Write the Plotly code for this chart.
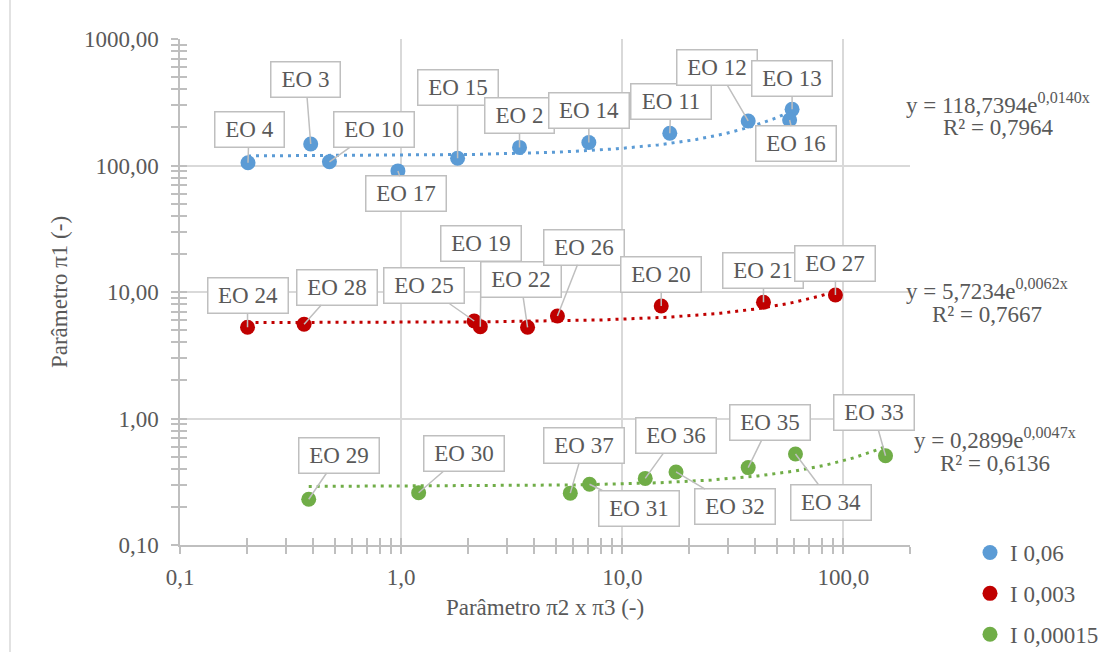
import numpy as np
import plotly.graph_objects as go

# ---- data -------------------------------------------------------------
series_names = ["I 0,06", "I 0,003", "I 0,00015"]
series_colors = ["#5b9bd5", "#c00000", "#70ad47"]

s1_labels = ["EO 4", "EO 3", "EO 10", "EO 17", "EO 15", "EO 2", "EO 14", "EO 11", "EO 12", "EO 13", "EO 16"]
s1_x = [0.203, 0.39, 0.474, 0.967, 1.80, 3.43, 7.06, 16.4, 37.1, 58.6, 57.1]
s1_y = [105, 148, 107, 90.6, 114, 139, 152, 180, 225, 278, 229]

s2_labels = ["EO 24", "EO 28", "EO 25", "EO 19", "EO 22", "EO 26", "EO 20", "EO 21", "EO 27"]
s2_x = [0.202, 0.364, 2.14, 2.28, 3.73, 5.09, 15.0, 43.5, 92.0]
s2_y = [5.26, 5.56, 5.9, 5.32, 5.26, 6.46, 7.74, 8.3, 9.46]

s3_labels = ["EO 29", "EO 30", "EO 37", "EO 31", "EO 36", "EO 32", "EO 35", "EO 34", "EO 33"]
s3_x = [0.382, 1.20, 5.82, 7.11, 12.7, 17.5, 37.1, 60.7, 155]
s3_y = [0.23, 0.259, 0.257, 0.302, 0.336, 0.378, 0.409, 0.524, 0.508]

# exponential trendlines y = a * exp(b * x)
trend_a = [118.7394, 5.7234, 0.2899]
trend_b = [0.0140, 0.0062, 0.0047]
trend_r2 = [0.7964, 0.7667, 0.6136]

x_tickvals = [0.1, 1, 10, 100]
x_ticktext = ["0,1", "1,0", "10,0", "100,0"]
y_tickvals = [0.1, 1, 10, 100, 1000]
y_ticktext = ["0,10", "1,00", "10,00", "100,00", "1000,00"]

# ---- layout helpers -----------------------------------------------------
W, H = 1102, 652
L, R, T, B = 180, 910, 39, 545          # plot area in pixels
FONT = "Liberation Serif"
TXT = "#595959"
GRID = "#d9d9d9"
LINE = "#bfbfbf"


def px_to_paper(px, py):
    return (px - L) / (R - L), (B - py) / (B - T)


# callout box offsets (pixels, box centre relative to point)
callout = {
    "EO 4": (1, -33), "EO 3": (-5, -64), "EO 10": (45, -32), "EO 17": (8, 23),
    "EO 15": (0, -71), "EO 2": (0, -32), "EO 14": (0, -32), "EO 11": (1, -32),
    "EO 12": (-31, -53), "EO 13": (0, -31), "EO 16": (6, 24),
    "EO 24": (0, -32), "EO 28": (33, -37), "EO 25": (-50, -35), "EO 19": (1, -83),
    "EO 22": (-7, -48), "EO 26": (27, -69), "EO 20": (0, -32), "EO 21": (0, -32),
    "EO 27": (0, -32),
    "EO 29": (30, -44), "EO 30": (45, -39), "EO 37": (14, -48), "EO 31": (49, 24),
    "EO 36": (31, -43), "EO 32": (59, 35), "EO 35": (22, -45), "EO 34": (36, 48),
    "EO 33": (-12, -43),
}

# equation text anchor (pixels): centre of first line
eq_pos = [(998, 103), (987, 289), (995, 438)]

fig = go.Figure()

all_x = [s1_x, s2_x, s3_x]
all_y = [s1_y, s2_y, s3_y]
all_lab = [s1_labels, s2_labels, s3_labels]

# trendlines first so markers sit on top
for i in range(3):
    xs = np.geomspace(min(all_x[i]), max(all_x[i]), 200)
    ys = trend_a[i] * np.exp(trend_b[i] * xs)
    fig.add_trace(go.Scatter(
        x=xs, y=ys, mode="lines", showlegend=False, hoverinfo="skip",
        line=dict(color=series_colors[i], width=3, dash="3px,5px"),
    ))

for i in range(3):
    fig.add_trace(go.Scatter(
        x=all_x[i], y=all_y[i], mode="markers", name=series_names[i],
        legendgroup=series_names[i],
        marker=dict(color=series_colors[i], size=15, line=dict(width=0)),
        text=all_lab[i],
    ))

# empty trace carrying the overlay axes used for the inner tick marks
fig.add_trace(go.Scatter(x=[], y=[], xaxis="x2", yaxis="y2", showlegend=False, hoverinfo="skip"))

# data-point callouts
for i in range(3):
    for name, xv, yv in zip(all_lab[i], all_x[i], all_y[i]):
        dx, dy = callout[name]
        w = 68 if len(name) <= 4 else 79
        fig.add_annotation(
            x=np.log10(xv), y=np.log10(yv), xref="x", yref="y",
            text=name, showarrow=True, ax=dx, ay=dy,
            arrowhead=0, arrowwidth=1.5, arrowcolor=LINE, standoff=0,
            bordercolor=LINE, borderwidth=1.5, borderpad=0, bgcolor="white",
            width=w, height=34, align="center", valign="middle",
            font=dict(family=FONT, size=23, color=TXT),
        )

# trendline equations
for i in range(3):
    a_txt = f"{trend_a[i]:.4f}".replace(".", ",")
    b_txt = f"{trend_b[i]:.4f}".replace(".", ",")
    r_txt = f"{trend_r2[i]:.4f}".replace(".", ",")
    px, py = eq_pos[i]
    x1, y1 = px_to_paper(px, py)
    x2, y2 = px_to_paper(px, py + 25)
    fig.add_annotation(x=x1, y=y1, xref="paper", yref="paper", showarrow=False,
                       text=f"y = {a_txt}e<sup>{b_txt}x</sup>",
                       xanchor="center", yanchor="middle",
                       font=dict(family=FONT, size=23, color=TXT))
    fig.add_annotation(x=x2, y=y2, xref="paper", yref="paper", showarrow=False,
                       text=f"R² = {r_txt}",
                       xanchor="center", yanchor="middle",
                       font=dict(family=FONT, size=23, color=TXT))

# chart frame line on the left
bx0, _ = px_to_paper(10, 0)
_, by0 = px_to_paper(0, H)
_, by1 = px_to_paper(0, 0)
fig.add_shape(type="line", xref="paper", yref="paper", x0=bx0, x1=bx0, y0=by0, y1=by1,
              line=dict(color=GRID, width=1.5))

x_range = [-1, np.log10(200)]
y_range = [-1, 3]

axis_common = dict(type="log", showline=True, linecolor=LINE, linewidth=1.5,
                   ticks="outside", ticklen=7, tickcolor=LINE, tickwidth=1.5,
                   tickfont=dict(family=FONT, size=23, color=TXT),
                   gridcolor=GRID, gridwidth=1.5, zeroline=False)

lx, ly = px_to_paper(970, 531)

fig.update_layout(
    width=W, height=H, autosize=False,
    margin=dict(l=L, r=W - R, t=T, b=H - B, autoexpand=False),
    paper_bgcolor="white", plot_bgcolor="white",
    font=dict(family=FONT, size=23, color=TXT),
    xaxis=dict(**axis_common, range=x_range, tickvals=x_tickvals, ticktext=x_ticktext,
               ticklabelstandoff=4,
               minor=dict(ticks="outside", ticklen=7, tickcolor=LINE, tickwidth=1.5,
                          dtick="D1", showgrid=False),
               title=dict(text="Parâmetro π2 x π3 (-)", standoff=10,
                          font=dict(family=FONT, size=23, color=TXT))),
    yaxis=dict(**axis_common, range=y_range, tickvals=y_tickvals, ticktext=y_ticktext,
               ticklabelstandoff=8,
               minor=dict(ticks="outside", ticklen=7, tickcolor=LINE, tickwidth=1.5,
                          dtick="D1", showgrid=False),
               title=dict(text="Parâmetro π1 (-)", standoff=10,
                          font=dict(family=FONT, size=23, color=TXT))),
    xaxis2=dict(type="log", range=x_range, overlaying="x", anchor="y2", side="bottom",
                tickvals=x_tickvals, ticks="inside", ticklen=7, tickcolor=LINE, tickwidth=1.5,
                showticklabels=False, showgrid=False, showline=False, zeroline=False,
                minor=dict(ticks="inside", ticklen=7, tickcolor=LINE, tickwidth=1.5,
                           dtick="D1", showgrid=False)),
    yaxis2=dict(type="log", range=y_range, overlaying="y", anchor="x2", side="left",
                tickvals=y_tickvals, ticks="inside", ticklen=7, tickcolor=LINE, tickwidth=1.5,
                showticklabels=False, showgrid=False, showline=False, zeroline=False,
                minor=dict(ticks="inside", ticklen=7, tickcolor=LINE, tickwidth=1.5,
                           dtick="D1", showgrid=False)),
    legend=dict(x=lx, y=ly, xanchor="left", yanchor="top", tracegroupgap=8,
                bgcolor="rgba(0,0,0,0)", font=dict(family=FONT, size=23, color=TXT)),
    showlegend=True,
)

fig.write_html("out.html")
